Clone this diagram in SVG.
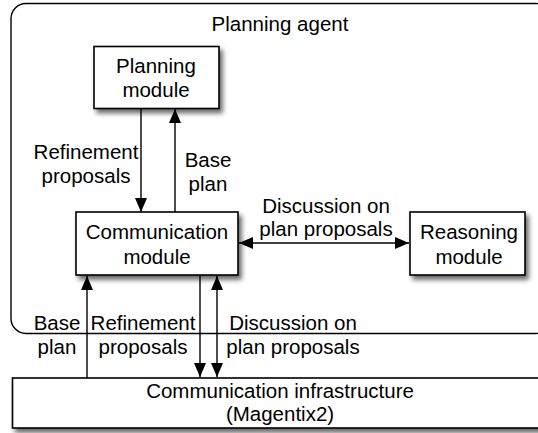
<svg xmlns="http://www.w3.org/2000/svg" width="538" height="433" viewBox="0 0 538 433">
<defs>
<filter id="sh" x="-20%" y="-20%" width="150%" height="160%">
<feGaussianBlur in="SourceAlpha" stdDeviation="2.5"/>
<feOffset dx="3" dy="4" result="b"/>
<feComponentTransfer><feFuncA type="linear" slope="0.6"/></feComponentTransfer>
<feMerge><feMergeNode/><feMergeNode in="SourceGraphic"/></feMerge>
</filter>
<marker id="ah" viewBox="0 0 14 12" refX="14" refY="6" markerWidth="14" markerHeight="12" markerUnits="userSpaceOnUse" orient="auto-start-reverse">
<path d="M0,0 L14,6 L0,12 z" fill="#000"/>
</marker>
</defs>
<style>
text{font-family:"Liberation Sans",Arial,sans-serif;font-size:20.5px;fill:#000;text-anchor:middle}
.box{fill:#fff;stroke:#000;stroke-width:1.6}
.c{stroke:#000;stroke-width:1.4;fill:none}
</style>
<rect width="538" height="433" fill="#fff"/>
<g id="planning-agent">
<rect x="11" y="3.5" width="540" height="330" rx="15" ry="15" fill="none" stroke="#000" stroke-width="1.4"/>
<text x="280" y="31">Planning agent</text>
</g>
<g id="planning-module">
<rect class="box" x="94" y="46.5" width="125" height="62" filter="url(#sh)"/>
<text x="156" y="73">Planning</text>
<text x="156" y="97">module</text>
</g>
<g id="communication-module">
<rect class="box" x="76" y="212" width="162" height="63" filter="url(#sh)"/>
<text x="157" y="239">Communication</text>
<text x="157" y="264">module</text>
</g>
<g id="reasoning-module">
<rect class="box" x="410" y="212" width="115" height="63" filter="url(#sh)"/>
<text x="469" y="239">Reasoning</text>
<text x="469" y="264">module</text>
</g>
<g id="communication-infrastructure">
<rect class="box" x="12.5" y="378" width="530" height="50" filter="url(#sh)"/>
<text x="280" y="398">Communication infrastructure</text>
<text x="280" y="421">(Magentix2)</text>
</g>
<g id="connectors">
<line class="c" x1="141" y1="109" x2="141" y2="212" marker-end="url(#ah)"/>
<line class="c" x1="175" y1="212" x2="175" y2="109" marker-end="url(#ah)"/>
<line class="c" x1="239" y1="243" x2="409" y2="243" marker-start="url(#ah)" marker-end="url(#ah)"/>
<line class="c" x1="87" y1="378" x2="87" y2="276" marker-end="url(#ah)"/>
<line class="c" x1="200" y1="276" x2="200" y2="377" marker-end="url(#ah)"/>
<line class="c" x1="217" y1="276" x2="217" y2="377" marker-start="url(#ah)" marker-end="url(#ah)"/>
</g>
<g id="labels">
<text x="86" y="159">Refinement</text>
<text x="86" y="183">proposals</text>
<text x="208" y="167">Base</text>
<text x="208" y="191">plan</text>
<text x="326" y="213">Discussion on</text>
<text x="326" y="236">plan proposals</text>
<text x="57" y="330">Base</text>
<text x="57" y="354">plan</text>
<text x="143" y="330">Refinement</text>
<text x="143" y="354">proposals</text>
<text x="293" y="330">Discussion on</text>
<text x="293" y="354">plan proposals</text>
</g>
</svg>
